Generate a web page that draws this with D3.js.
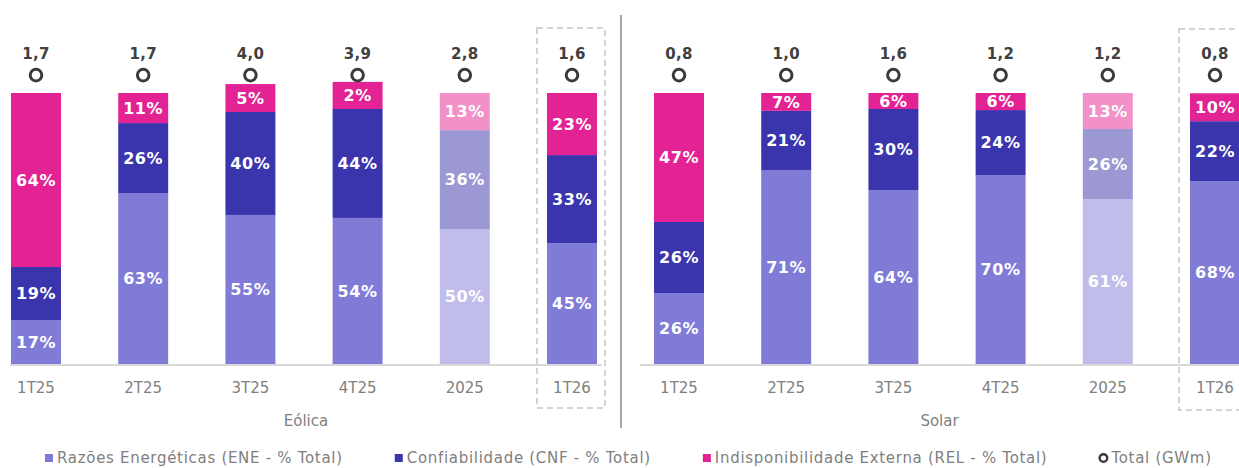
<!DOCTYPE html>
<html>
<head>
<meta charset="utf-8">
<script src="https://cdn.jsdelivr.net/npm/d3@7"></script>
<style>
  body { margin: 0; background: #fff; }
  svg { display: block; font-family: "DejaVu Sans", Verdana, sans-serif; }
</style>
</head>
<body>
<div id="figure"></div>
<script>
var w = 1239;
var h = 468;

// categories and groups
var categories = ["1T25", "2T25", "3T25", "4T25", "2025", "1T26"];
var groups = ["Eólica", "Solar"];

// segment heights as drawn (% of total)
var eolEne = [16.2, 63.1, 55.0, 53.9, 49.8, 44.6];
var eolCnf = [19.6, 25.8, 38.0, 40.2, 36.5, 32.5];
var eolRel = [64.2, 11.1, 10.3, 10.0, 13.7, 22.9];
var solEne = [26.2, 71.6, 64.2, 69.7, 60.9, 67.5];
var solCnf = [26.2, 21.8, 29.9, 24.0, 25.8, 22.1];
var solRel = [47.6, 6.6, 5.9, 6.3, 13.3, 10.3];

// labels shown on the segments
var eolEneLbl = [17, 63, 55, 54, 50, 45];
var eolCnfLbl = [19, 26, 40, 44, 36, 33];
var eolRelLbl = [64, 11, 5, 2, 13, 23];
var solEneLbl = [26, 71, 64, 70, 61, 68];
var solCnfLbl = [26, 21, 30, 24, 26, 22];
var solRelLbl = [47, 7, 6, 6, 13, 10];

// totals (GWm)
var eolTotal = [1.7, 1.7, 4.0, 3.9, 2.8, 1.6];
var solTotal = [0.8, 1.0, 1.6, 1.2, 1.2, 0.8];

var seriesNames = ["Razões Energéticas (ENE - % Total)", "Confiabilidade (CNF - % Total)", "Indisponibilidade Externa (REL - % Total)"];
var totalName = "Total (GWm)";

var colors = ["#7f7bd7", "#3a34ad", "#e32294"];
var colorsYear = ["#c0bdeb", "#9b98d3", "#f290c8"];

var markerLevel = 106.6;
var totalLabelLevel = 112.6;

var svg = d3.select('#figure')
  .append('svg')
  .attr('width', w)
  .attr('height', h);

var yScale = d3.scaleLinear()
  .domain([0, 100])
  .range([364, 93]);

var panels = [
  { name: groups[0], range: [-17.6, 625.6], ene: eolEne, cnf: eolCnf, rel: eolRel,
    lbl: [eolEneLbl, eolCnfLbl, eolRelLbl], total: eolTotal, axis: [10, 602], box: [537, 605, 28, 408] },
  { name: groups[1], range: [625.4, 1268.6], ene: solEne, cnf: solCnf, rel: solRel,
    lbl: [solEneLbl, solCnfLbl, solRelLbl], total: solTotal, axis: [640, 1239], box: [1179, 1250, 29, 410] }
];

panels.forEach(function(p) {
  var xScale = d3.scaleBand()
    .domain(categories)
    .range(p.range)
    .paddingInner(0.534)
    .paddingOuter(0.267);

  var g = svg.append('g').classed('panel', true);

  // highlight box around the last quarter
  g.append('rect')
    .attr('x', p.box[0])
    .attr('y', p.box[2])
    .attr('width', p.box[1] - p.box[0])
    .attr('height', p.box[3] - p.box[2])
    .attr('fill', 'none')
    .attr('stroke', '#d4d4d4')
    .attr('stroke-width', 2)
    .attr('stroke-dasharray', '6,4');

  var rows = categories.map(function(c, i) {
    return { cat: c, vals: [p.ene[i], p.cnf[i], p.rel[i]], lbls: [p.lbl[0][i], p.lbl[1][i], p.lbl[2][i]], total: p.total[i] };
  });

  rows.forEach(function(r) {
    var base = 0;
    var pal = r.cat === "2025" ? colorsYear : colors;
    r.vals.forEach(function(v, k) {
      var y0 = yScale(base), y1 = yScale(base + v);
      g.append('rect')
        .attr('x', xScale(r.cat))
        .attr('y', y1)
        .attr('width', xScale.bandwidth())
        .attr('height', y0 - y1)
        .attr('fill', pal[k]);
      g.append('text')
        .attr('x', xScale(r.cat) + xScale.bandwidth() / 2)
        .attr('y', (y0 + y1) / 2)
        .attr('dy', '0.36em')
        .attr('text-anchor', 'middle')
        .attr('font-size', 16)
        .attr('font-weight', 'bold')
        .attr('letter-spacing', 0.6)
        .attr('fill', '#fff')
        .text(r.lbls[k] + '%');
      base += v;
    });

    // total marker and label
    g.append('circle')
      .attr('cx', xScale(r.cat) + xScale.bandwidth() / 2)
      .attr('cy', yScale(markerLevel))
      .attr('r', 5.8)
      .attr('fill', '#fff')
      .attr('stroke', '#3a3a3a')
      .attr('stroke-width', 3);
    g.append('text')
      .attr('x', xScale(r.cat) + xScale.bandwidth() / 2)
      .attr('y', yScale(totalLabelLevel))
      .attr('text-anchor', 'middle')
      .attr('font-size', 15)
      .attr('font-weight', 'bold')
      .attr('letter-spacing', 0.3)
      .attr('fill', '#404040')
      .text(d3.format('.1f')(r.total).replace('.', ','));

    // category label
    g.append('text')
      .attr('x', xScale(r.cat) + xScale.bandwidth() / 2)
      .attr('y', 393)
      .attr('text-anchor', 'middle')
      .attr('font-size', 15)
      .attr('fill', '#808080')
      .text(r.cat);
  });

  // baseline
  g.append('line')
    .attr('x1', p.axis[0])
    .attr('x2', p.axis[1])
    .attr('y1', yScale(0) + 1)
    .attr('y2', yScale(0) + 1)
    .attr('stroke', '#d9d9d9')
    .attr('stroke-width', 2);

  // group label
  g.append('text')
    .attr('x', (p.axis[0] + p.axis[1]) / 2)
    .attr('y', 426)
    .attr('text-anchor', 'middle')
    .attr('font-size', 15)
    .attr('fill', '#808080')
    .text(p.name);
});

// separator between groups
svg.append('line')
  .attr('x1', 621).attr('x2', 621)
  .attr('y1', 15).attr('y2', 428)
  .attr('stroke', '#a6a6a6')
  .attr('stroke-width', 2);

// legend
var legend = svg.append('g').classed('legend', true);
var lx = 45;
var ly = 463;
seriesNames.concat([totalName]).forEach(function(name, i) {
  if (i < 3) {
    legend.append('rect')
      .attr('x', lx)
      .attr('y', ly - 9)
      .attr('width', 8)
      .attr('height', 8)
      .attr('fill', colors[i]);
  } else {
    legend.append('circle')
      .attr('cx', lx + 4)
      .attr('cy', ly - 5)
      .attr('r', 3.8)
      .attr('fill', '#fff')
      .attr('stroke', '#3a3a3a')
      .attr('stroke-width', 2.4);
  }
  var t = legend.append('text')
    .attr('x', lx + 12)
    .attr('y', ly)
    .attr('font-size', 15)
    .attr('letter-spacing', 0.7)
    .attr('fill', '#808080')
    .text(name);
  lx += 12 + t.node().getComputedTextLength() + 52;
});
</script>
</body>
</html>
